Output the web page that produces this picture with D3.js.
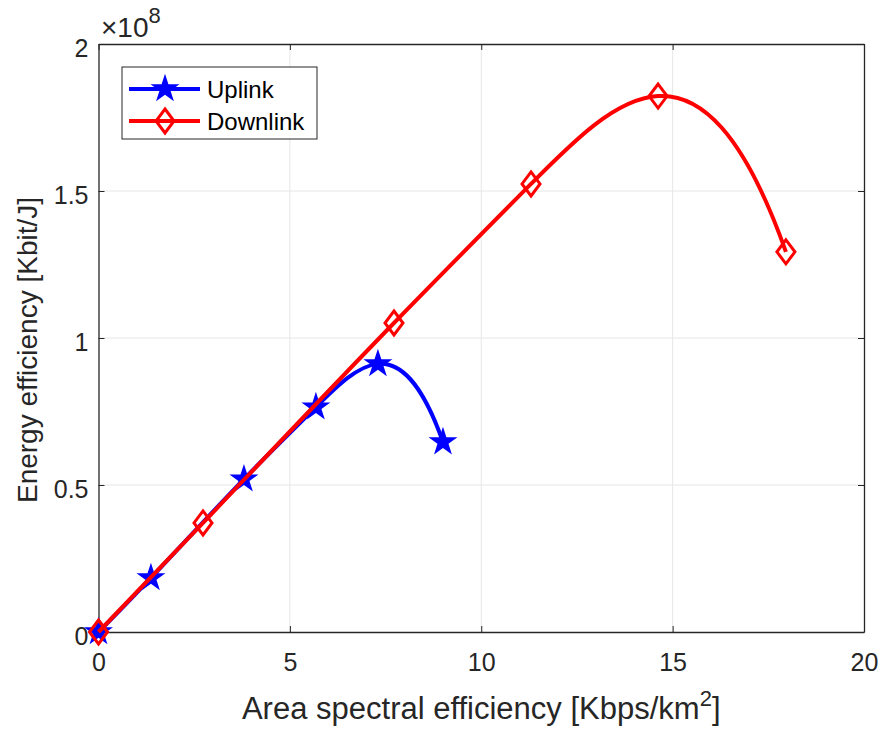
<!DOCTYPE html>
<html>
<head>
<meta charset="utf-8">
<script src="https://cdn.jsdelivr.net/npm/d3@7"></script>
<style>
  body { margin: 0; background: #fff; }
  text { font-family: "Liberation Sans", Arial, sans-serif; fill: #262626; }
</style>
</head>
<body>
<div id="chart"></div>
<script>
// values (y in units of 1e8 Kbit/J)
var uplinkX = [0, 1.37, 3.8, 5.68, 7.3, 9.0];
var uplinkY = [0, 0.184, 0.52, 0.765, 0.912, 0.646];
var downlinkX = [0, 2.73, 7.72, 11.3, 14.62, 17.96];
var downlinkY = [0, 0.371, 1.051, 1.524, 1.823, 1.293];
var xTicks = [0, 5, 10, 15, 20];
var yTicks = [0, 0.5, 1, 1.5, 2];
var yTickLabels = ["0", "0.5", "1", "1.5", "2"];

var W = 884, H = 733;
var margin = { top: 44, right: 20, bottom: 101, left: 98.5 },
    width = 864 - margin.left,
    height = 632 - margin.top;

// cubic spline in x (not-a-knot ends), drawn as bezier segments through the data points
function SplineX(context) { this._context = context; }
SplineX.prototype = {
    areaStart: function() { this._line = 0; },
    areaEnd: function() { this._line = NaN; },
    lineStart: function() { this._x = []; this._y = []; },
    point: function(x, y) { this._x.push(+x); this._y.push(+y); },
    lineEnd: function() {
        var xs = this._x, ys = this._y, n = xs.length, i, j, k;
        var h = [];
        for (i = 0; i < n - 1; i++) h.push(xs[i + 1] - xs[i]);
        // matrix for second derivatives M
        var A = [], b = [];
        for (i = 0; i < n; i++) { A.push(new Array(n).fill(0)); b.push(0); }
        A[0][0] = h[1]; A[0][1] = -(h[0] + h[1]); A[0][2] = h[0];
        for (i = 1; i < n - 1; i++) {
            A[i][i - 1] = h[i - 1];
            A[i][i] = 2 * (h[i - 1] + h[i]);
            A[i][i + 1] = h[i];
            b[i] = 6 * ((ys[i + 1] - ys[i]) / h[i] - (ys[i] - ys[i - 1]) / h[i - 1]);
        }
        A[n - 1][n - 3] = h[n - 2]; A[n - 1][n - 2] = -(h[n - 3] + h[n - 2]); A[n - 1][n - 1] = h[n - 3];
        // gaussian elimination with pivoting
        for (k = 0; k < n; k++) {
            var p = k;
            for (i = k + 1; i < n; i++) if (Math.abs(A[i][k]) > Math.abs(A[p][k])) p = i;
            var t = A[k]; A[k] = A[p]; A[p] = t;
            var tb = b[k]; b[k] = b[p]; b[p] = tb;
            for (i = k + 1; i < n; i++) {
                var f = A[i][k] / A[k][k];
                for (j = k; j < n; j++) A[i][j] -= f * A[k][j];
                b[i] -= f * b[k];
            }
        }
        var M = new Array(n).fill(0);
        for (i = n - 1; i >= 0; i--) {
            var s = b[i];
            for (j = i + 1; j < n; j++) s -= A[i][j] * M[j];
            M[i] = s / A[i][i];
        }
        var c = this._context;
        c.moveTo(xs[0], ys[0]);
        for (i = 0; i < n - 1; i++) {
            var d = (ys[i + 1] - ys[i]) / h[i];
            var s0 = d - h[i] * (2 * M[i] + M[i + 1]) / 6;
            var s1 = d + h[i] * (M[i] + 2 * M[i + 1]) / 6;
            c.bezierCurveTo(xs[i] + h[i] / 3, ys[i] + s0 * h[i] / 3,
                xs[i + 1] - h[i] / 3, ys[i + 1] - s1 * h[i] / 3,
                xs[i + 1], ys[i + 1]);
        }
    }
};
function curveSplineX(context) { return new SplineX(context); }

var svg = d3.select("#chart").append("svg")
    .attr("width", W)
    .attr("height", H);

var g = svg.append("g")
    .attr("transform", "translate(" + margin.left + "," + margin.top + ")");

var x = d3.scaleLinear().domain([0, 20]).range([0, width]);
var y = d3.scaleLinear().domain([0, 2]).range([height, 0]);

// grid
g.append("g").selectAll("line")
    .data(xTicks.slice(1, -1)).enter()
    .append("line")
    .attr("x1", function(d) { return x(d); })
    .attr("x2", function(d) { return x(d); })
    .attr("y1", 0).attr("y2", height)
    .attr("stroke", "#e6e6e6").attr("stroke-width", 1);
g.append("g").selectAll("line")
    .data(yTicks.slice(1, -1)).enter()
    .append("line")
    .attr("y1", function(d) { return y(d); })
    .attr("y2", function(d) { return y(d); })
    .attr("x1", 0).attr("x2", width)
    .attr("stroke", "#e6e6e6").attr("stroke-width", 1);

// axes (ticks inside, box on all sides)
var axisColor = "#262626";
var xAxis = g.append("g").attr("transform", "translate(0," + height + ")")
    .call(d3.axisBottom(x).tickValues(xTicks).tickSizeInner(-6).tickSizeOuter(0).tickPadding(21));
var yAxis = g.append("g")
    .call(d3.axisLeft(y).tickValues(yTicks).tickSizeInner(-6).tickSizeOuter(0).tickPadding(10)
        .tickFormat(function(d, i) { return yTickLabels[i]; }));
var xTop = g.append("g")
    .call(d3.axisTop(x).tickValues(xTicks).tickSizeInner(-6).tickSizeOuter(0).tickFormat(""));
var yRight = g.append("g").attr("transform", "translate(" + width + ",0)")
    .call(d3.axisRight(y).tickValues(yTicks).tickSizeInner(-6).tickSizeOuter(0).tickFormat(""));

[xAxis, yAxis, xTop, yRight].forEach(function(a) {
    a.select(".domain").attr("stroke", axisColor).attr("stroke-width", 1.3);
    a.selectAll(".tick line").attr("stroke", axisColor).attr("stroke-width", 1);
    a.selectAll(".tick text")
        .attr("font-size", 25)
        .attr("fill", axisColor)
        .style("font-family", "'Liberation Sans', Arial, sans-serif");
});
yAxis.selectAll(".tick text").attr("dy", "0.5em");

// exponent label
var expo = svg.append("text")
    .attr("x", 101).attr("y", 37)
    .style("font-size", "28px");
expo.append("tspan").text("\u00d710");
expo.append("tspan").attr("dy", -14).style("font-size", "22px").text("8");

// lines
var line = d3.line()
    .x(function(d) { return x(d[0]); })
    .y(function(d) { return y(d[1]); })
    .curve(curveSplineX);

var up = d3.zip(uplinkX, uplinkY);
var down = d3.zip(downlinkX, downlinkY);

var star = d3.symbol().type(d3.symbolStar).size(260);
var diamond = "M0,-12L9,0L0,12L-9,0Z";

var plot = g.append("g");

plot.append("path").datum(up)
    .attr("d", line)
    .attr("fill", "none").attr("stroke", "#0000ff").attr("stroke-width", 4);
plot.append("g").selectAll("path")
    .data(up).enter()
    .append("path")
    .attr("d", star)
    .attr("transform", function(d) { return "translate(" + x(d[0]) + "," + y(d[1]) + ")"; })
    .attr("fill", "#0000ff");

plot.append("path").datum(down)
    .attr("d", line)
    .attr("fill", "none").attr("stroke", "#ff0000").attr("stroke-width", 4);
plot.append("g").selectAll("path")
    .data(down).enter()
    .append("path")
    .attr("d", diamond)
    .attr("transform", function(d) { return "translate(" + x(d[0]) + "," + y(d[1]) + ")"; })
    .attr("fill", "none").attr("stroke", "#ff0000").attr("stroke-width", 3);

// legend
var leg = svg.append("g").attr("transform", "translate(122,67)");
leg.append("rect")
    .attr("width", 195).attr("height", 72)
    .attr("fill", "#fff").attr("stroke", "#262626").attr("stroke-width", 1);
var legItems = [
    { name: "Uplink", color: "#0000ff", y: 22 },
    { name: "Downlink", color: "#ff0000", y: 54 }
];
legItems.forEach(function(it, i) {
    leg.append("line")
        .attr("x1", 7).attr("x2", 78)
        .attr("y1", it.y).attr("y2", it.y)
        .attr("stroke", it.color).attr("stroke-width", 4);
    if (i === 0) {
        leg.append("path").attr("d", star)
            .attr("transform", "translate(43," + it.y + ")")
            .attr("fill", it.color);
    } else {
        leg.append("path").attr("d", diamond)
            .attr("transform", "translate(43," + it.y + ")")
            .attr("fill", "none").attr("stroke", it.color).attr("stroke-width", 3);
    }
    leg.append("text")
        .attr("x", 85).attr("y", it.y + 9)
        .attr("font-size", 24)
        .style("fill", "#000")
        .text(it.name);
});

// axis labels
var xl = svg.append("text")
    .attr("x", margin.left + width / 2).attr("y", 719)
    .attr("text-anchor", "middle")
    .attr("font-size", 31);
xl.append("tspan").text("Area spectral efficiency [Kbps/km");
xl.append("tspan").attr("dy", -13).attr("font-size", 22).text("2");
xl.append("tspan").attr("dy", 13).text("]");

svg.append("text")
    .attr("transform", "translate(37,350) rotate(-90)")
    .attr("text-anchor", "middle")
    .attr("font-size", 28)
    .text("Energy efficiency [Kbit/J]");
</script>
</body>
</html>
